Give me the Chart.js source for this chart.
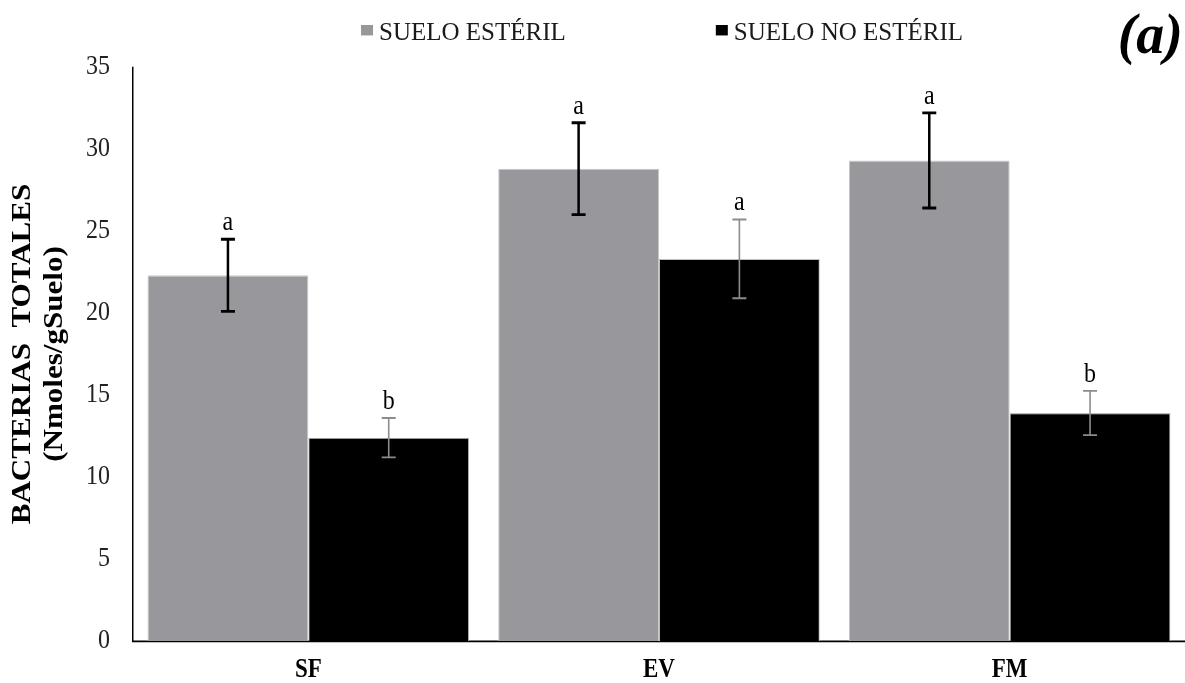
<!DOCTYPE html>
<html lang="es">
<head>
<meta charset="utf-8">
<title>Bacterias totales</title>
<script src="https://cdn.jsdelivr.net/npm/chart.js@4.4.1/dist/chart.umd.min.js"></script>
<style>
  html, body { margin: 0; padding: 0; background: #ffffff; }
  #wrap { position: relative; width: 1185px; height: 683px; }
</style>
</head>
<body>
<div id="wrap"><canvas id="chart" width="1185" height="683"></canvas></div>
<script>
// Treatments on the x axis
const categories = ['SF', 'EV', 'FM'];

// Total bacteria (nmol / g soil) per treatment
const sterileValues = [22.3, 28.8, 29.3];
const sterileErrors = [2.2, 2.8, 2.9];
const sterileLetters = ['a', 'a', 'a'];

const nonSterileValues = [12.4, 23.3, 13.9];
const nonSterileErrors = [1.2, 2.4, 1.35];
const nonSterileLetters = ['b', 'a', 'b'];

const seriesNames = ['SUELO ESTÉRIL', 'SUELO NO ESTÉRIL'];
const yTicks = [0, 5, 10, 15, 20, 25, 30, 35];

const SERIF = '"Liberation Serif", "Times New Roman", Times, serif';
const GRAY = '#98979c';

// The figure uses tall, narrow type: everything is laid out in a shorter
// frame and drawn with a vertical scale so glyphs come out elongated.
const STRETCH = 1.15;
const FULL_H = 683;
const BASE_H = FULL_H / STRETCH;

const stretchPlugin = {
  id: 'stretch',
  beforeDraw(chart) {
    chart.ctx.save();
    chart.ctx.scale(1, STRETCH);
  },
  afterDraw(chart) {
    chart.ctx.restore();
  }
};

// Error bars and significance letters above each bar
const errorBarPlugin = {
  id: 'errorBars',
  afterDatasetsDraw(chart) {
    const ctx = chart.ctx;
    const y = chart.scales.y;
    chart.data.datasets.forEach((ds, di) => {
      const meta = chart.getDatasetMeta(di);
      meta.data.forEach((bar, i) => {
        const v = ds.data[i];
        const e = ds.errors[i];
        const top = y.getPixelForValue(v + e);
        const bot = y.getPixelForValue(v - e);
        const x = bar.x;
        const cap = 7;
        ctx.save();
        ctx.strokeStyle = ds.errorColor;
        ctx.lineWidth = ds.errorWidth;
        ctx.beginPath();
        ctx.moveTo(x, top); ctx.lineTo(x, bot);
        ctx.moveTo(x - cap, top); ctx.lineTo(x + cap, top);
        ctx.moveTo(x - cap, bot); ctx.lineTo(x + cap, bot);
        ctx.stroke();
        ctx.fillStyle = '#000';
        ctx.font = '24px ' + SERIF;
        ctx.textAlign = 'center';
        ctx.textBaseline = 'alphabetic';
        ctx.fillText(ds.letters[i], x, top - 8);
        ctx.restore();
      });
    });
  }
};

// Legend row at the top, and the panel tag "(a)"
const headerPlugin = {
  id: 'header',
  afterDraw(chart) {
    const ctx = chart.ctx;
    const area = chart.chartArea;
    ctx.save();
    ctx.font = '25px ' + SERIF;
    const box = 12, gapBox = 6, gapItems = 150;
    const items = chart.data.datasets.map(ds => ({
      label: ds.label, color: ds.backgroundColor,
      w: box + gapBox + ctx.measureText(ds.label).width
    }));
    const total = items.reduce((s, it) => s + it.w, 0) + gapItems * (items.length - 1);
    let x = (area.left + area.right) / 2 - total / 2 + 3;
    const baseline = 39.5;
    items.forEach(it => {
      ctx.fillStyle = it.color;
      ctx.fillRect(x, 25, box, box / STRETCH);
      ctx.fillStyle = '#1a1a1a';
      ctx.textAlign = 'left';
      ctx.textBaseline = 'alphabetic';
      ctx.fillText(it.label, x + box + gapBox, baseline);
      x += it.w + gapItems;
    });
    ctx.fillStyle = '#000';
    ctx.font = 'italic bold 56px ' + SERIF;
    ctx.textAlign = 'right';
    ctx.fillText('(a)', 1183, 52.5);
    ctx.restore();
  }
};

new Chart(document.getElementById('chart'), {
  type: 'bar',
  data: {
    labels: categories,
    datasets: [
      {
        label: seriesNames[0],
        data: sterileValues,
        errors: sterileErrors,
        letters: sterileLetters,
        errorColor: '#000000',
        errorWidth: 2.5,
        backgroundColor: GRAY,
        borderColor: '#c8c8cb',
        borderWidth: 1
      },
      {
        label: seriesNames[1],
        data: nonSterileValues,
        errors: nonSterileErrors,
        letters: nonSterileLetters,
        errorColor: '#8c8c8c',
        errorWidth: 1.6,
        backgroundColor: '#000000',
        borderColor: '#bdbdbd',
        borderWidth: 1
      }
    ]
  },
  options: {
    responsive: false,
    animation: false,
    layout: { padding: { top: 67 / STRETCH, left: 0, right: 0, bottom: FULL_H - BASE_H } },
    datasets: {
      bar: { categoryPercentage: 0.917, barPercentage: 1.0 }
    },
    plugins: {
      legend: { display: false },
      tooltip: { enabled: false }
    },
    scales: {
      x: {
        grid: { display: false, drawTicks: false },
        border: { display: true, color: '#000', width: 1.5 },
        ticks: {
          padding: 12,
          color: '#000',
          font: { family: SERIF, size: 23, weight: 'bold' }
        },
        afterFit(scale) { scale.height = BASE_H - 641 / STRETCH; }
      },
      y: {
        min: 0,
        max: 35,
        afterBuildTicks(scale) { scale.ticks = yTicks.map(v => ({ value: v })); },
        grid: { display: false, drawTicks: false },
        border: { display: true, color: '#000', width: 1.5 },
        ticks: {
          padding: 23,
          color: '#222',
          font: { family: SERIF, size: 24 }
        },
        title: {
          display: true,
          text: ['BACTERIAS  TOTALES', '(Nmoles/gSuelo)'],
          color: '#000',
          font: { family: SERIF, size: 27, weight: 'bold', lineHeight: 1.185 },
          padding: { top: 7, bottom: 0 }
        },
        afterFit(scale) { scale.width = 133; }
      }
    }
  },
  plugins: [stretchPlugin, errorBarPlugin, headerPlugin]
});
</script>
</body>
</html>
